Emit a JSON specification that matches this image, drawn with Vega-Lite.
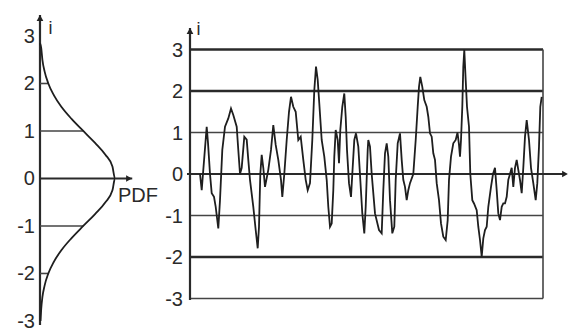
{
  "$schema": "https://vega.github.io/schema/vega-lite/v6.json",
  "padding": 0,
  "autosize": {"type": "pad"},
  "spacing": 0,
  "background": "white",
  "config": {"view": {"stroke": null}, "font": "Liberation Sans", "axis": {"disable": true}},
  "hconcat": [
    {
      "width": 165,
      "height": 331,
      "layer": [
        {
          "data": {"values": [{"x": 0, "y": -3.084, "y2": 3.44}]},
          "mark": {"type": "rule", "color": "#2a2a2a", "strokeWidth": 2.2},
          "encoding": {
            "x": {"field": "x", "type": "quantitative", "axis": null, "scale": {"domain": [-0.5333, 1.6667], "nice": false, "zero": false}},
            "y": {"field": "y", "type": "quantitative", "axis": null, "scale": {"domain": [-3.211, 3.758], "nice": false, "zero": false}},
            "y2": {"field": "y2"}
          }
        },
        {
          "data": {"values": [{"x": 0, "y": 0, "x2": 1.23}]},
          "mark": {"type": "rule", "color": "#2a2a2a", "strokeWidth": 2.2},
          "encoding": {
            "x": {"field": "x", "type": "quantitative", "axis": null, "scale": {"domain": [-0.5333, 1.6667], "nice": false, "zero": false}},
            "y": {"field": "y", "type": "quantitative", "axis": null, "scale": {"domain": [-3.211, 3.758], "nice": false, "zero": false}},
            "x2": {"field": "x2"}
          }
        },
        {
          "data": {"values": [
            {"x": 0, "y": 1, "x2": 0.577},
            {"x": 0, "y": -1, "x2": 0.577},
            {"x": 0, "y": 2, "x2": 0.111},
            {"x": 0, "y": -2, "x2": 0.111}
          ]},
          "mark": {"type": "rule", "color": "#444", "strokeWidth": 1.6},
          "encoding": {
            "x": {"field": "x", "type": "quantitative", "axis": null, "scale": {"domain": [-0.5333, 1.6667], "nice": false, "zero": false}},
            "y": {"field": "y", "type": "quantitative", "axis": null, "scale": {"domain": [-3.211, 3.758], "nice": false, "zero": false}},
            "x2": {"field": "x2"}
          }
        },
        {
          "data": {"values": [
            {"y": -3.0, "x": 0.007},
            {"y": -2.75, "x": 0.016},
            {"y": -2.5, "x": 0.032},
            {"y": -2.25, "x": 0.062},
            {"y": -2.0, "x": 0.111},
            {"y": -1.75, "x": 0.186},
            {"y": -1.5, "x": 0.29},
            {"y": -1.25, "x": 0.424},
            {"y": -1.0, "x": 0.577},
            {"y": -0.75, "x": 0.734},
            {"y": -0.5, "x": 0.872},
            {"y": -0.25, "x": 0.966},
            {"y": 0.0, "x": 1.0},
            {"y": 0.25, "x": 0.966},
            {"y": 0.5, "x": 0.872},
            {"y": 0.75, "x": 0.734},
            {"y": 1.0, "x": 0.577},
            {"y": 1.25, "x": 0.424},
            {"y": 1.5, "x": 0.29},
            {"y": 1.75, "x": 0.186},
            {"y": 2.0, "x": 0.111},
            {"y": 2.25, "x": 0.062},
            {"y": 2.5, "x": 0.032},
            {"y": 2.75, "x": 0.016},
            {"y": 2.85, "x": 0.0}
          ]},
          "mark": {"type": "line", "color": "#1e1e1e", "strokeWidth": 1.8, "interpolate": "monotone"},
          "encoding": {
            "x": {"field": "x", "type": "quantitative", "axis": null, "scale": {"domain": [-0.5333, 1.6667], "nice": false, "zero": false}},
            "y": {"field": "y", "type": "quantitative", "axis": null, "scale": {"domain": [-3.211, 3.758], "nice": false, "zero": false}},
            "order": {"field": "y", "type": "quantitative"}
          }
        },
        {
          "data": {"values": [{"x": 0, "y": 3.379}]},
          "mark": {"type": "point", "shape": "triangle-up", "filled": true, "color": "#222", "size": 45, "opacity": 1},
          "encoding": {
            "x": {"field": "x", "type": "quantitative", "axis": null, "scale": {"domain": [-0.5333, 1.6667], "nice": false, "zero": false}},
            "y": {"field": "y", "type": "quantitative", "axis": null, "scale": {"domain": [-3.211, 3.758], "nice": false, "zero": false}}
          }
        },
        {
          "data": {"values": [{"x": 1.187, "y": 0}]},
          "mark": {"type": "point", "shape": "triangle-right", "filled": true, "color": "#222", "size": 45, "opacity": 1},
          "encoding": {
            "x": {"field": "x", "type": "quantitative", "axis": null, "scale": {"domain": [-0.5333, 1.6667], "nice": false, "zero": false}},
            "y": {"field": "y", "type": "quantitative", "axis": null, "scale": {"domain": [-3.211, 3.758], "nice": false, "zero": false}}
          }
        },
        {
          "data": {"values": [
            {"y": 3, "label": "3"}, {"y": 2, "label": "2"}, {"y": 1, "label": "1"},
            {"y": 0, "label": "0"}, {"y": -1, "label": "-1"}, {"y": -2, "label": "-2"}, {"y": -3, "label": "-3"}
          ]},
          "mark": {"type": "text", "align": "right", "baseline": "middle", "fontSize": 20, "fill": "#2a2a2a", "dy": 1},
          "encoding": {
            "x": {"datum": -0.0667, "type": "quantitative", "scale": {"domain": [-0.5333, 1.6667], "nice": false, "zero": false}},
            "y": {"field": "y", "type": "quantitative", "axis": null, "scale": {"domain": [-3.211, 3.758], "nice": false, "zero": false}},
            "text": {"field": "label", "type": "nominal"}
          }
        },
        {
          "data": {"values": [{"label": "i"}]},
          "mark": {"type": "text", "align": "center", "baseline": "middle", "fontSize": 18, "fill": "#2a2a2a"},
          "encoding": {
            "x": {"datum": 0.14, "type": "quantitative", "scale": {"domain": [-0.5333, 1.6667], "nice": false, "zero": false}},
            "y": {"datum": 3.15, "type": "quantitative", "scale": {"domain": [-3.211, 3.758], "nice": false, "zero": false}},
            "text": {"field": "label", "type": "nominal"}
          }
        },
        {
          "data": {"values": [{"label": "PDF"}]},
          "mark": {"type": "text", "align": "left", "baseline": "middle", "fontSize": 20, "fill": "#2a2a2a"},
          "encoding": {
            "x": {"datum": 1.04, "type": "quantitative", "scale": {"domain": [-0.5333, 1.6667], "nice": false, "zero": false}},
            "y": {"datum": -0.37, "type": "quantitative", "scale": {"domain": [-3.211, 3.758], "nice": false, "zero": false}},
            "text": {"field": "label", "type": "nominal"}
          }
        }
      ]
    },
    {
      "width": 409,
      "height": 331,
      "layer": [
        {
          "data": {"values": [{"t": 0, "v": 3, "t2": 353}, {"t": 0, "v": 2, "t2": 353}, {"t": 0, "v": -2, "t2": 353}]},
          "mark": {"type": "rule", "color": "#2a2a2a", "strokeWidth": 2.4},
          "encoding": {
            "x": {"field": "t", "type": "quantitative", "axis": null, "scale": {"domain": [-25, 384], "nice": false, "zero": false}},
            "y": {"field": "v", "type": "quantitative", "axis": null, "scale": {"domain": [-3.783, 4.193], "nice": false, "zero": false}},
            "x2": {"field": "t2"}
          }
        },
        {
          "data": {"values": [{"t": 0, "v": 1, "t2": 353}, {"t": 0, "v": -1, "t2": 353}, {"t": 0, "v": -3, "t2": 353}]},
          "mark": {"type": "rule", "color": "#444", "strokeWidth": 1.6},
          "encoding": {
            "x": {"field": "t", "type": "quantitative", "axis": null, "scale": {"domain": [-25, 384], "nice": false, "zero": false}},
            "y": {"field": "v", "type": "quantitative", "axis": null, "scale": {"domain": [-3.783, 4.193], "nice": false, "zero": false}},
            "x2": {"field": "t2"}
          }
        },
        {
          "data": {"values": [{"t": 353, "v": -3, "v2": 3}]},
          "mark": {"type": "rule", "color": "#444", "strokeWidth": 1.6},
          "encoding": {
            "x": {"field": "t", "type": "quantitative", "axis": null, "scale": {"domain": [-25, 384], "nice": false, "zero": false}},
            "y": {"field": "v", "type": "quantitative", "axis": null, "scale": {"domain": [-3.783, 4.193], "nice": false, "zero": false}},
            "y2": {"field": "v2"}
          }
        },
        {
          "data": {"values": [{"t": 0, "v": -3.036, "v2": 3.518}]},
          "mark": {"type": "rule", "color": "#2a2a2a", "strokeWidth": 2.2},
          "encoding": {
            "x": {"field": "t", "type": "quantitative", "axis": null, "scale": {"domain": [-25, 384], "nice": false, "zero": false}},
            "y": {"field": "v", "type": "quantitative", "axis": null, "scale": {"domain": [-3.783, 4.193], "nice": false, "zero": false}},
            "y2": {"field": "v2"}
          }
        },
        {
          "data": {"values": [{"t": -3, "v": 0, "t2": 375}]},
          "mark": {"type": "rule", "color": "#2a2a2a", "strokeWidth": 2.2},
          "encoding": {
            "x": {"field": "t", "type": "quantitative", "axis": null, "scale": {"domain": [-25, 384], "nice": false, "zero": false}},
            "y": {"field": "v", "type": "quantitative", "axis": null, "scale": {"domain": [-3.783, 4.193], "nice": false, "zero": false}},
            "x2": {"field": "t2"}
          }
        },
        {
          "data": {"values": [
            {"t": 10.0, "v": 0}, {"t": 11.7, "v": -0.39}, {"t": 16.7, "v": 1.14}, {"t": 18.0, "v": 0.75},
            {"t": 20.0, "v": 0}, {"t": 21.7, "v": -0.46}, {"t": 24.0, "v": -0.55}, {"t": 25.7, "v": -0.79},
            {"t": 28.3, "v": -1.31}, {"t": 30.0, "v": -0.63}, {"t": 32.3, "v": 0.58}, {"t": 35.0, "v": 1.14},
            {"t": 38.3, "v": 1.34}, {"t": 41.0, "v": 1.58}, {"t": 43.3, "v": 1.42}, {"t": 46.7, "v": 1.14},
            {"t": 48.3, "v": 0.58}, {"t": 50.0, "v": 0}, {"t": 51.7, "v": 0.15}, {"t": 54.3, "v": 0.9},
            {"t": 56.7, "v": 0.83}, {"t": 58.3, "v": 0.34}, {"t": 60.0, "v": -0.14}, {"t": 63.3, "v": -0.79},
            {"t": 65.7, "v": -1.35}, {"t": 67.7, "v": -1.79}, {"t": 69.0, "v": -1.27}, {"t": 70.3, "v": 0},
            {"t": 71.7, "v": 0.46}, {"t": 73.3, "v": 0.15}, {"t": 75.0, "v": -0.31}, {"t": 78.3, "v": 0.1},
            {"t": 81.0, "v": 0.58}, {"t": 83.3, "v": 1.18}, {"t": 85.7, "v": 0.7}, {"t": 88.3, "v": 0.34},
            {"t": 91.0, "v": -0.14}, {"t": 92.3, "v": -0.55}, {"t": 94.3, "v": 0}, {"t": 96.7, "v": 0.82},
            {"t": 99.0, "v": 1.5}, {"t": 101.0, "v": 1.86}, {"t": 103.3, "v": 1.62}, {"t": 105.7, "v": 1.5},
            {"t": 108.3, "v": 0.82}, {"t": 110.7, "v": 0.9}, {"t": 113.3, "v": 0.34}, {"t": 115.7, "v": -0.14},
            {"t": 117.7, "v": -0.39}, {"t": 120.0, "v": -0.22}, {"t": 122.3, "v": 0.82}, {"t": 124.3, "v": 2.02},
            {"t": 126.0, "v": 2.59}, {"t": 127.7, "v": 2.27}, {"t": 129.3, "v": 1.7}, {"t": 131.7, "v": 0.82},
            {"t": 134.3, "v": 0.42}, {"t": 136.7, "v": -0.14}, {"t": 138.3, "v": -0.79}, {"t": 140.0, "v": -1.27},
            {"t": 141.7, "v": -1.19}, {"t": 143.3, "v": -0.39}, {"t": 144.3, "v": 0.42}, {"t": 145.7, "v": 1.06},
            {"t": 147.7, "v": 0.82}, {"t": 149.0, "v": 0.26}, {"t": 150.3, "v": 1.06}, {"t": 152.3, "v": 1.62},
            {"t": 154.3, "v": 1.94}, {"t": 155.7, "v": 1.38}, {"t": 157.0, "v": 0.58}, {"t": 159.0, "v": -0.22},
            {"t": 161.0, "v": -0.55}, {"t": 162.3, "v": 0}, {"t": 164.3, "v": 0.82}, {"t": 166.0, "v": 0.98},
            {"t": 168.3, "v": 0.66}, {"t": 170.3, "v": -0.14}, {"t": 172.3, "v": -0.95}, {"t": 174.3, "v": -1.43},
            {"t": 175.7, "v": -0.79}, {"t": 177.7, "v": 0.58}, {"t": 178.3, "v": 0.82}, {"t": 180.0, "v": 0.66},
            {"t": 181.7, "v": 0}, {"t": 185.0, "v": -0.95}, {"t": 189.0, "v": -1.35}, {"t": 191.7, "v": -1.43},
            {"t": 193.3, "v": -0.39}, {"t": 195.0, "v": 0.5}, {"t": 196.7, "v": 0.74}, {"t": 198.3, "v": 0.42},
            {"t": 200.0, "v": -0.63}, {"t": 202.3, "v": -1.43}, {"t": 204.3, "v": -1.27}, {"t": 205.7, "v": -0.14},
            {"t": 207.7, "v": 0.74}, {"t": 210.0, "v": 0.98}, {"t": 211.7, "v": 0.34}, {"t": 213.3, "v": -0.14},
            {"t": 215.0, "v": -0.31}, {"t": 216.7, "v": -0.63}, {"t": 218.3, "v": -0.39}, {"t": 220.0, "v": -0.22},
            {"t": 223.3, "v": 0}, {"t": 225.7, "v": 0.82}, {"t": 227.7, "v": 1.62}, {"t": 229.0, "v": 2.1},
            {"t": 230.3, "v": 2.34}, {"t": 232.3, "v": 2.1}, {"t": 234.3, "v": 1.78}, {"t": 236.7, "v": 1.62},
            {"t": 238.3, "v": 1.38}, {"t": 240.0, "v": 0.98}, {"t": 241.7, "v": 0.9}, {"t": 243.3, "v": 0.5},
            {"t": 245.0, "v": 0.34}, {"t": 246.7, "v": -0.22}, {"t": 249.0, "v": -0.63}, {"t": 251.0, "v": -1.19},
            {"t": 253.3, "v": -1.51}, {"t": 255.7, "v": -1.59}, {"t": 257.7, "v": -1.11}, {"t": 259.0, "v": -0.14},
            {"t": 261.0, "v": 0.42}, {"t": 263.3, "v": 0.74}, {"t": 265.7, "v": 0.82}, {"t": 267.5, "v": 1.0},
            {"t": 269.0, "v": 0.7}, {"t": 270.0, "v": 0.42}, {"t": 271.0, "v": 0.82}, {"t": 272.3, "v": 1.62},
            {"t": 273.3, "v": 2.59}, {"t": 274.3, "v": 2.99}, {"t": 275.7, "v": 2.26}, {"t": 277.0, "v": 1.62},
            {"t": 279.0, "v": 1.14}, {"t": 280.3, "v": 0}, {"t": 282.3, "v": -0.63}, {"t": 284.0, "v": -0.71},
            {"t": 286.7, "v": -0.87}, {"t": 288.3, "v": -1.27}, {"t": 290.0, "v": -1.59}, {"t": 291.7, "v": -1.99},
            {"t": 293.3, "v": -1.55}, {"t": 295.0, "v": -1.35}, {"t": 296.7, "v": -1.27}, {"t": 298.3, "v": -0.79},
            {"t": 301.0, "v": -0.31}, {"t": 303.0, "v": 0}, {"t": 305.0, "v": 0.15}, {"t": 306.7, "v": -0.39},
            {"t": 308.3, "v": -0.95}, {"t": 310.0, "v": -1.11}, {"t": 311.7, "v": -0.79}, {"t": 313.3, "v": -0.71},
            {"t": 315.0, "v": -0.71}, {"t": 316.7, "v": -0.55}, {"t": 318.3, "v": -0.14}, {"t": 320.0, "v": 0},
            {"t": 321.7, "v": 0.15}, {"t": 323.3, "v": -0.31}, {"t": 325.0, "v": 0.15}, {"t": 326.7, "v": 0.34},
            {"t": 328.3, "v": 0.1}, {"t": 330.0, "v": -0.14}, {"t": 331.7, "v": -0.46}, {"t": 333.3, "v": 0.15},
            {"t": 335.0, "v": 0.9}, {"t": 336.7, "v": 1.3}, {"t": 339.0, "v": 0.82}, {"t": 341.0, "v": 0.15},
            {"t": 343.3, "v": -0.22}, {"t": 345.7, "v": -0.63}, {"t": 347.3, "v": -0.22}, {"t": 349.0, "v": 0.66},
            {"t": 350.3, "v": 1.62}, {"t": 351.7, "v": 1.86}
          ]},
          "mark": {"type": "line", "color": "#1e1e1e", "strokeWidth": 1.8},
          "encoding": {
            "x": {"field": "t", "type": "quantitative", "axis": null, "scale": {"domain": [-25, 384], "nice": false, "zero": false}},
            "y": {"field": "v", "type": "quantitative", "axis": null, "scale": {"domain": [-3.783, 4.193], "nice": false, "zero": false}}
          }
        },
        {
          "data": {"values": [{"t": 0, "v": 3.446}]},
          "mark": {"type": "point", "shape": "triangle-up", "filled": true, "color": "#222", "size": 45, "opacity": 1},
          "encoding": {
            "x": {"field": "t", "type": "quantitative", "axis": null, "scale": {"domain": [-25, 384], "nice": false, "zero": false}},
            "y": {"field": "v", "type": "quantitative", "axis": null, "scale": {"domain": [-3.783, 4.193], "nice": false, "zero": false}}
          }
        },
        {
          "data": {"values": [{"t": 375, "v": 0}]},
          "mark": {"type": "point", "shape": "triangle-right", "filled": true, "color": "#222", "size": 45, "opacity": 1},
          "encoding": {
            "x": {"field": "t", "type": "quantitative", "axis": null, "scale": {"domain": [-25, 384], "nice": false, "zero": false}},
            "y": {"field": "v", "type": "quantitative", "axis": null, "scale": {"domain": [-3.783, 4.193], "nice": false, "zero": false}}
          }
        },
        {
          "data": {"values": [
            {"v": 3, "label": "3"}, {"v": 2, "label": "2"}, {"v": 1, "label": "1"},
            {"v": 0, "label": "0"}, {"v": -1, "label": "-1"}, {"v": -2, "label": "-2"}, {"v": -3, "label": "-3"}
          ]},
          "mark": {"type": "text", "align": "right", "baseline": "middle", "fontSize": 20, "fill": "#2a2a2a", "dy": 1},
          "encoding": {
            "x": {"datum": -7, "type": "quantitative", "scale": {"domain": [-25, 384], "nice": false, "zero": false}},
            "y": {"field": "v", "type": "quantitative", "axis": null, "scale": {"domain": [-3.783, 4.193], "nice": false, "zero": false}},
            "text": {"field": "label", "type": "nominal"}
          }
        },
        {
          "data": {"values": [{"label": "i"}]},
          "mark": {"type": "text", "align": "center", "baseline": "middle", "fontSize": 18, "fill": "#2a2a2a"},
          "encoding": {
            "x": {"datum": 8.5, "type": "quantitative", "scale": {"domain": [-25, 384], "nice": false, "zero": false}},
            "y": {"datum": 3.47, "type": "quantitative", "scale": {"domain": [-3.783, 4.193], "nice": false, "zero": false}},
            "text": {"field": "label", "type": "nominal"}
          }
        }
      ]
    }
  ]
}
